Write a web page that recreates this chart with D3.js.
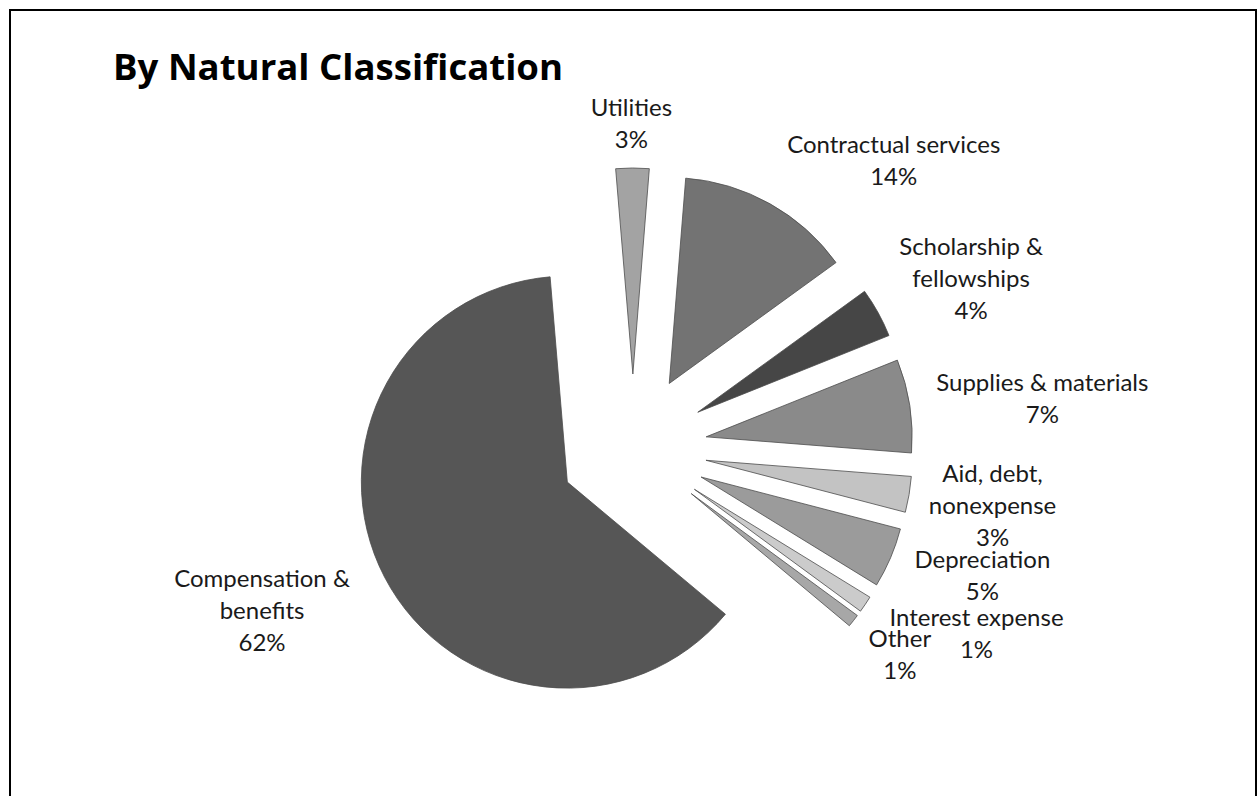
<!DOCTYPE html>
<html>
<head>
<meta charset="utf-8">
<style>
	body { margin: 0; background: #fff; }
	svg { display: block; }
	text { font-family: Lato, "Open Sans", sans-serif; }
</style>
</head>
<body>
<svg width="1258" height="796"></svg>
<script src="https://d3js.org/d3.v7.min.js"></script>
<script>

// slice data, clockwise from 12 o'clock (values are % of total)
var categories = ['Utilities', 'Contractual services', 'Scholarship & fellowships', 'Supplies & materials',
	'Aid, debt, nonexpense', 'Depreciation', 'Interest expense', 'Other', 'Compensation & benefits']
var values = [2.6, 13.7, 3.9, 7.3, 2.8, 4.7, 1.3, 1.0, 62.4]
// how each label breaks into lines
var labelLines = [['Utilities'], ['Contractual services'], ['Scholarship &', 'fellowships'], ['Supplies & materials'],
	['Aid, debt,', 'nonexpense'], ['Depreciation'], ['Interest expense'], ['Other'], ['Compensation &', 'benefits']]
var greys = ['#a3a3a3', '#737373', '#464646', '#8a8a8a', '#c3c3c3', '#9b9b9b', '#cbcbcb', '#a7a7a7', '#565656']

var width = 1258,
	height = 796,
	cx = 633,
	cy = 448,
	radius = 206,
	explode = 74,
	lineH = 32,
	startDeg = -4.8

// label nudges from the default outside position [dx, dy]
var nudge = [[-1, -6], [104, -10], [58, -16], [93, -2], [44, 3], [55, 1], [78, 6], [15, 8], [-87, 14]]

var svg = d3.select('svg')

// slide frame (no bottom edge in view)
svg.append('path')
	.attr('d', 'M10,' + height + 'V10H1256V' + height)
	.attr('fill', 'none')
	.attr('stroke', '#000')
	.attr('stroke-width', 2)

svg.append('text')
	.attr('x', 113)
	.attr('y', 80)
	.style('font-family', '"Open Sans", Lato, sans-serif')
	.style('font-weight', 'bold')
	.style('font-size', '36.6px')
	.attr('fill', '#000')
	.text('By Natural Classification')

var pie = d3.pie()
	.sort(null)
	.startAngle(startDeg * Math.PI / 180)
	.endAngle(startDeg * Math.PI / 180 + 2 * Math.PI)

var arc = d3.arc().innerRadius(0).outerRadius(radius)

var arcs = pie(values)

function mid(d) { return (d.startAngle + d.endAngle) / 2 }

var g = svg.append('g').attr('transform', 'translate(' + cx + ',' + cy + ')')

g.selectAll('path.slice')
	.data(arcs)
	.enter().append('path')
	.attr('class', 'slice')
	.attr('transform', function(d) {
		var a = mid(d)
		return 'translate(' + (explode * Math.sin(a)) + ',' + (-explode * Math.cos(a)) + ')'
	})
	.attr('d', arc)
	.attr('fill', function(d, i) { return greys[i] })
	.attr('stroke', '#4d4d4d')
	.attr('stroke-width', 0.8)

// labels: centred on a point outside the exploded slice
var fmt = function(v) { return Math.round(v) + '%' }
var labelR = radius + explode + 40

g.selectAll('text.lab')
	.data(arcs)
	.enter().append('text')
	.attr('class', 'lab')
	.attr('text-anchor', 'middle')
	.attr('fill', '#1a1a1a')
	.style('font-size', '24px')
	.each(function(d, i) {
		var a = mid(d)
		var lines = labelLines[i].concat([fmt(values[i])])
		var x = labelR * Math.sin(a) + nudge[i][0]
		var y = -labelR * Math.cos(a) + nudge[i][1] - (lines.length - 1) * lineH / 2
		var t = d3.select(this)
		lines.forEach(function(s, k) {
			t.append('tspan')
				.attr('x', x)
				.attr('y', y + k * lineH)
				.attr('dominant-baseline', 'central')
				.text(s)
		})
	})

</script>
</body>
</html>
